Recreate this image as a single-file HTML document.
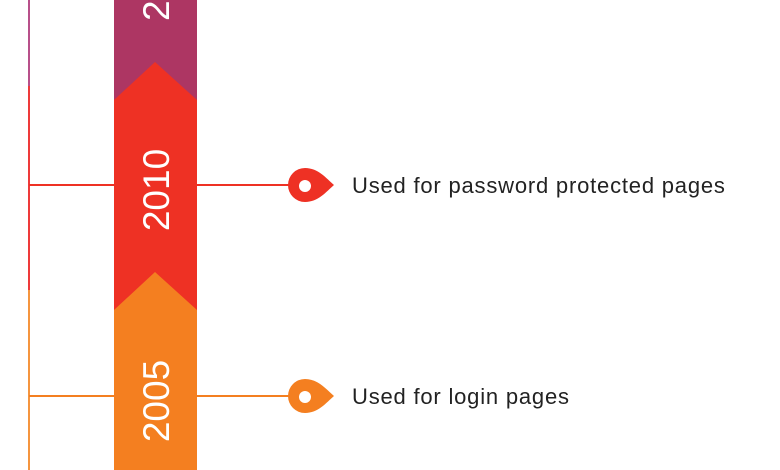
<!DOCTYPE html>
<html><head><style>
body{margin:0;background:#fff;}
</style></head><body>
<svg width="780" height="470" xmlns="http://www.w3.org/2000/svg" style="display:block">
<line x1="29" y1="0" x2="29" y2="86" stroke="#b8508a" stroke-width="2"/>
<line x1="29" y1="86" x2="29" y2="290" stroke="#ee3a3a" stroke-width="2"/>
<line x1="29" y1="290" x2="29" y2="470" stroke="#f5953f" stroke-width="2"/>
<rect x="114" y="0" width="83" height="110" fill="#ad3663"/>
<polygon points="114,100 155,62 197,100 197,320 114,320" fill="#ee3124"/>
<polygon points="114,310 155,272 197,310 197,470 114,470" fill="#f47f20"/>
<line x1="29" y1="185" x2="114" y2="185" stroke="#ee3124" stroke-width="2"/>
<line x1="197" y1="185" x2="292" y2="185" stroke="#ee3124" stroke-width="2"/>
<line x1="29" y1="396" x2="114" y2="396" stroke="#f47f20" stroke-width="2"/>
<line x1="197" y1="396" x2="292" y2="396" stroke="#f47f20" stroke-width="2"/>
<path d="M305,168 C318,168 326,178 334,185 C326,192 318,202 305,202 A17,17 0 0 1 305,168 Z" fill="#ee3124"/>
<circle cx="305" cy="186" r="6" fill="#fff"/>
<path d="M305,379 C318,379 326,389 334,396 C326,403 318,413 305,413 A17,17 0 0 1 305,379 Z" fill="#f47f20"/>
<circle cx="305" cy="397" r="6" fill="#fff"/>
<g font-family="Liberation Sans, sans-serif" font-size="37" fill="#fff">
<text transform="translate(169,190) rotate(-90)" text-anchor="middle">2010</text>
<text transform="translate(169,401) rotate(-90)" text-anchor="middle">2005</text>
<text transform="translate(169,21) rotate(-90)" text-anchor="start">2</text>
</g>
<g font-family="Liberation Sans, sans-serif" font-size="22" fill="#222" letter-spacing="0.8">
<text x="352" y="193">Used for password protected pages</text>
<text x="352" y="404">Used for login pages</text>
</g>
</svg>
</body></html>
